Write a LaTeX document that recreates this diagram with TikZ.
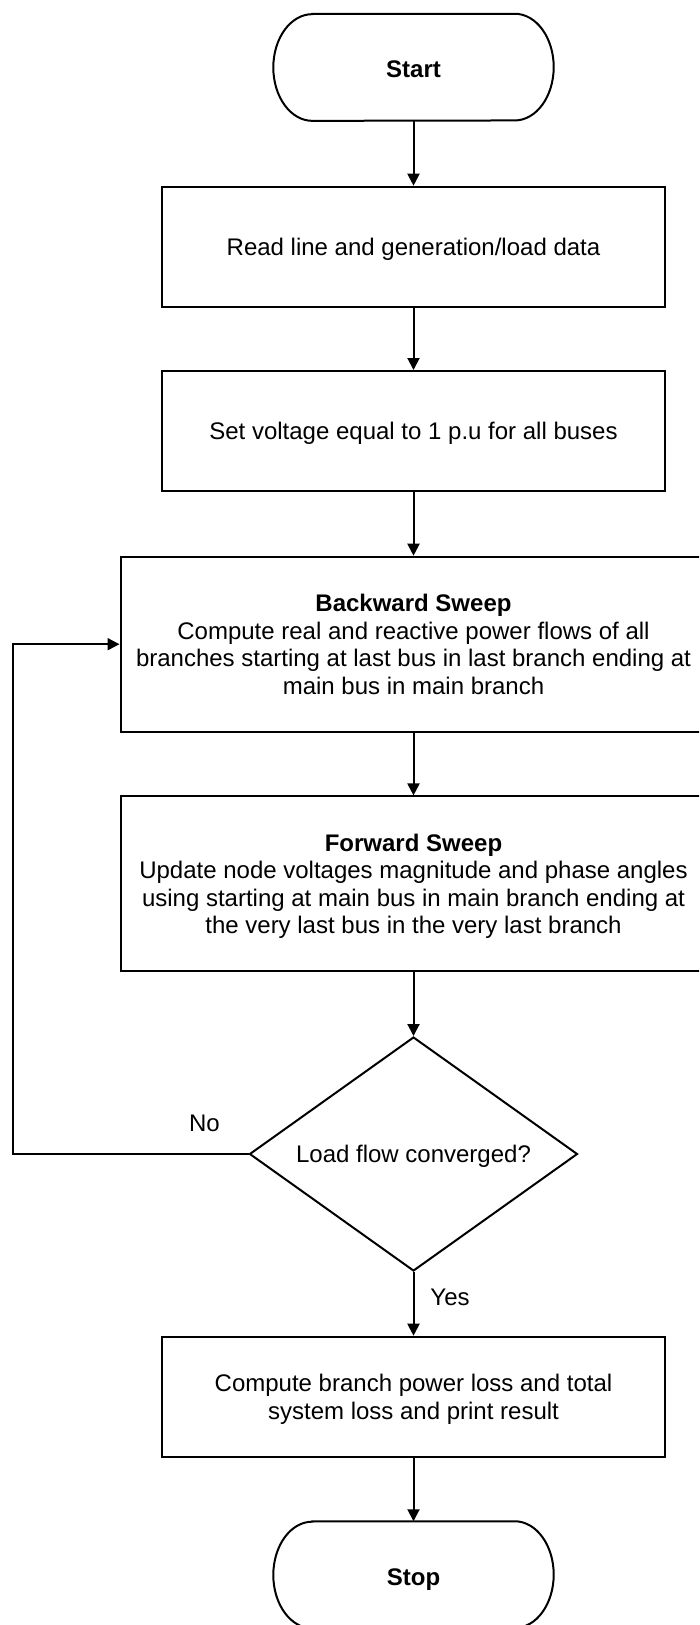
\documentclass[tikz,border=0pt]{standalone}
\usepackage{fontspec}
\setmainfont{Liberation Sans}
\usetikzlibrary{shapes.geometric,arrows.meta}
\begin{document}
\begin{tikzpicture}[x=1pt,y=-1pt,
  every node/.style={font=\fontsize{24}{27.5}\selectfont},
  proc/.style={draw,line width=2pt,rectangle,inner sep=0pt,text depth=0pt,
    minimum width=503pt,minimum height=120pt,align=center},
  wide/.style={proc,minimum width=586pt,minimum height=175pt},
  term/.style={rectangle,minimum width=280pt,minimum height=106.7pt,
    inner sep=0pt,text height=21pt,text depth=0pt,
    font=\fontsize{24}{27.5}\selectfont\bfseries},
  termline/.style={line width=2pt},
  decision/.style={draw,line width=2pt,diamond,shape aspect=1.4,
    minimum width=328pt,minimum height=234pt,inner sep=0pt,text depth=0pt},
  arr/.style={line width=2pt,-{Triangle[length=12pt,width=12pt]}},
  lbl/.style={inner sep=0pt,anchor=base}
]
\useasboundingbox (0,0) rectangle (699,1625);
\clip (0,0) rectangle (699,1625);

% flowchart blocks
\node[term] (start) at (413.5,67.3) {Start};
\node[proc] (read) at (413.5,246.7) {Read line and generation/load data};
\node[proc] (init) at (413.5,431) {Set voltage equal to 1 p.u for all buses};
\node[wide] (back) at (413.5,644.2) {{\bfseries Backward Sweep}\\
  Compute real and reactive power flows of all\\
  branches starting at last bus in last branch ending at\\
  main bus in main branch};
\node[wide] (fwd) at (413.5,883.9) {{\bfseries Forward Sweep}\\
  Update node voltages magnitude and phase angles\\
  using starting at main bus in main branch ending at\\
  the very last bus in the very last branch};
\node[decision] (conv) at (413.5,1154) {Load flow converged?};
\node[proc] (loss) at (413.5,1396.7) {Compute branch power loss and total\\
  system loss and print result};
\node[term] (stop) at (413.5,1574.8) {Stop};

% terminator outlines: straight top and bottom, elliptical ends
\foreach \t in {start,stop}{
  \draw[termline] ([xshift=39pt]\t.north west) -- ([xshift=-39pt]\t.north east)
    arc[start angle=90,end angle=-90,x radius=39pt,y radius=53.35pt]
    -- ([xshift=39pt]\t.south west)
    arc[start angle=270,end angle=90,x radius=39pt,y radius=53.35pt]
    -- cycle;
}

% main sequence
\draw[arr] (start) -- (read);
\draw[arr] (read) -- (init);
\draw[arr] (init) -- (back);
\draw[arr] (back) -- (fwd);
\draw[arr] (fwd) -- (conv);
\draw[arr] (conv) -- (loss);
\draw[arr] (loss) -- (stop);

% iteration loop
\coordinate (loopcorner) at (12.5,1154);
\draw[arr] (conv.west) -- (loopcorner) |- (back.west);

% branch labels
\node[lbl] (nolbl) at (204.5,1131) {No};
\node[lbl] (yeslbl) at (450,1305) {Yes};
\end{tikzpicture}
\end{document}
